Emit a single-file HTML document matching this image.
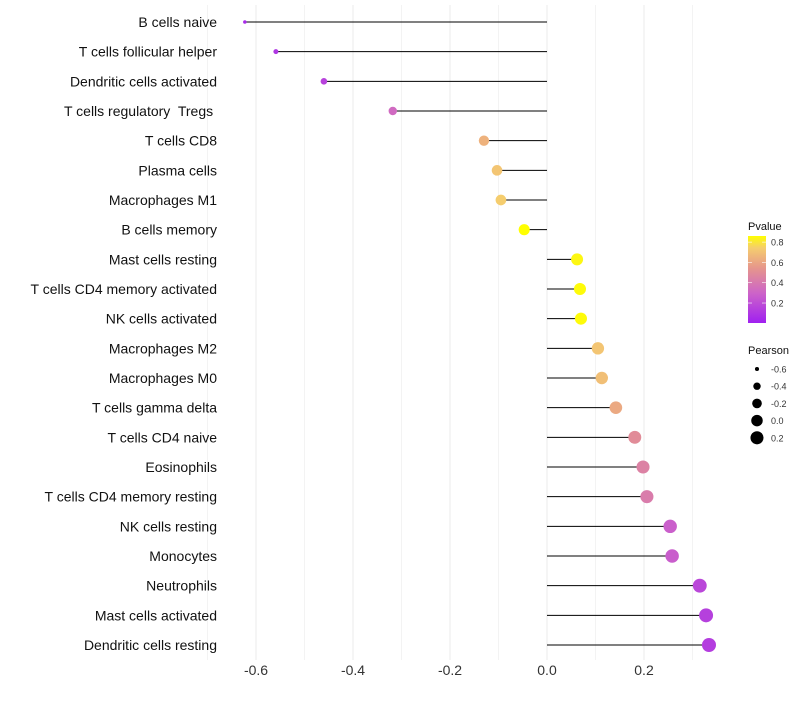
<!DOCTYPE html>
<html><head><meta charset="utf-8"><style>
body{margin:0;background:#fff;font-family:"Liberation Sans",sans-serif}
text{white-space:pre}
</style></head><body>
<svg id="c" width="800" height="700" xmlns="http://www.w3.org/2000/svg"></svg>
<script>
const categories=["B cells naive","T cells follicular helper","Dendritic cells activated","T cells regulatory  Tregs ","T cells CD8","Plasma cells","Macrophages M1","B cells memory","Mast cells resting","T cells CD4 memory activated","NK cells activated","Macrophages M2","Macrophages M0","T cells gamma delta","T cells CD4 naive","Eosinophils","T cells CD4 memory resting","NK cells resting","Monocytes","Neutrophils","Mast cells activated","Dendritic cells resting"];
const pearson=[-0.623,-0.559,-0.460,-0.318,-0.130,-0.103,-0.095,-0.047,0.062,0.068,0.070,0.105,0.113,0.142,0.181,0.198,0.206,0.254,0.258,0.315,0.328,0.334];
const pvalue=[0.05,0.1,0.15,0.33,0.65,0.72,0.75,0.88,0.85,0.86,0.86,0.72,0.7,0.62,0.5,0.45,0.42,0.28,0.27,0.17,0.14,0.13];
const xTicks=[-0.6,-0.4,-0.2,0.0,0.2];
const xTickLabels=["-0.6","-0.4","-0.2","0.0","0.2"];
const pTicks=[0.8,0.6,0.4,0.2];
const sizeTicks=[-0.6,-0.4,-0.2,0.0,0.2];
const NS="http://www.w3.org/2000/svg";
const svg=document.getElementById('c');
function el(t,a,p){const e=document.createElementNS(NS,t);for(const k in a)e.setAttribute(k,a[k]);(p||svg).appendChild(e);return e;}
const x=v=>547+v*485;
const y=i=>22+i*(623/21);
const r=v=>Math.sqrt(Math.max(1,33+48*v));
const stops=[[0,[160,32,240]],[0.3,[205,100,200]],[0.55,[230,150,140]],[0.75,[245,205,110]],[0.87,[255,255,0]]];
function col(p){for(let i=1;i<stops.length;i++){if(p<=stops[i][0]||i==stops.length-1){const a=stops[i-1],b=stops[i];let t=(p-a[0])/(b[0]-a[0]);t=Math.max(0,Math.min(1,t));return 'rgb('+a[1].map((c,k)=>Math.round(c+(b[1][k]-c)*t)).join(',')+')';}}}
for(let v=-0.7;v<=0.35;v+=0.1){const g=el('line',{x1:x(v),x2:x(v),y1:5,y2:660,stroke:'#f3f3f3','stroke-width':1});}
xTicks.forEach((v,i)=>{const g=el('line',{x1:x(v),x2:x(v),y1:5,y2:660,stroke:'#ebebeb','stroke-width':1});
const t=el('text',{x:x(v),y:675,'text-anchor':'middle','font-size':14,fill:'#333'});t.textContent=xTickLabels[i];});
categories.forEach((c,i)=>{
const t=el('text',{x:217,y:y(i)+5,'text-anchor':'end','font-size':14,fill:'#111'});t.textContent=c;
const l=el('line',{x1:x(0),x2:x(pearson[i]),y1:y(i),y2:y(i),stroke:'#000','stroke-width':1});
const d=el('circle',{cx:x(pearson[i]),cy:y(i),r:r(pearson[i]),fill:col(pvalue[i])});
});
const defs=el('defs',{});const lg=el('linearGradient',{id:'g',x1:0,y1:1,x2:0,y2:0},defs);
stops.forEach(s=>{el('stop',{offset:(s[0]/0.87),'stop-color':col(s[0])},lg);});
let t=el('text',{x:748,y:230,'font-size':11,fill:'#111'});t.textContent='Pvalue';
const bar=el('rect',{x:748,y:236,width:18,height:87,fill:'url(#g)'});
pTicks.forEach(p=>{const yy=322-(p-0.013)*101.5;el('line',{x1:748,x2:752,y1:yy,y2:yy,stroke:'#fff','stroke-width':0.6});el('line',{x1:762,x2:766,y1:yy,y2:yy,stroke:'#fff','stroke-width':0.6});
const tt=el('text',{x:771,y:yy+3.5,'font-size':9,fill:'#333'});tt.textContent=p.toFixed(1);});
t=el('text',{x:748,y:354,'font-size':11,fill:'#111'});t.textContent='Pearson';
sizeTicks.forEach((v,i)=>{const yy=369+i*17.2;const c=el('circle',{cx:757,cy:yy,r:r(v),fill:'#000'});
const tt=el('text',{x:771,y:yy+3.5,'font-size':9,fill:'#333'});tt.textContent=v.toFixed(1);});
</script>
</body></html>
